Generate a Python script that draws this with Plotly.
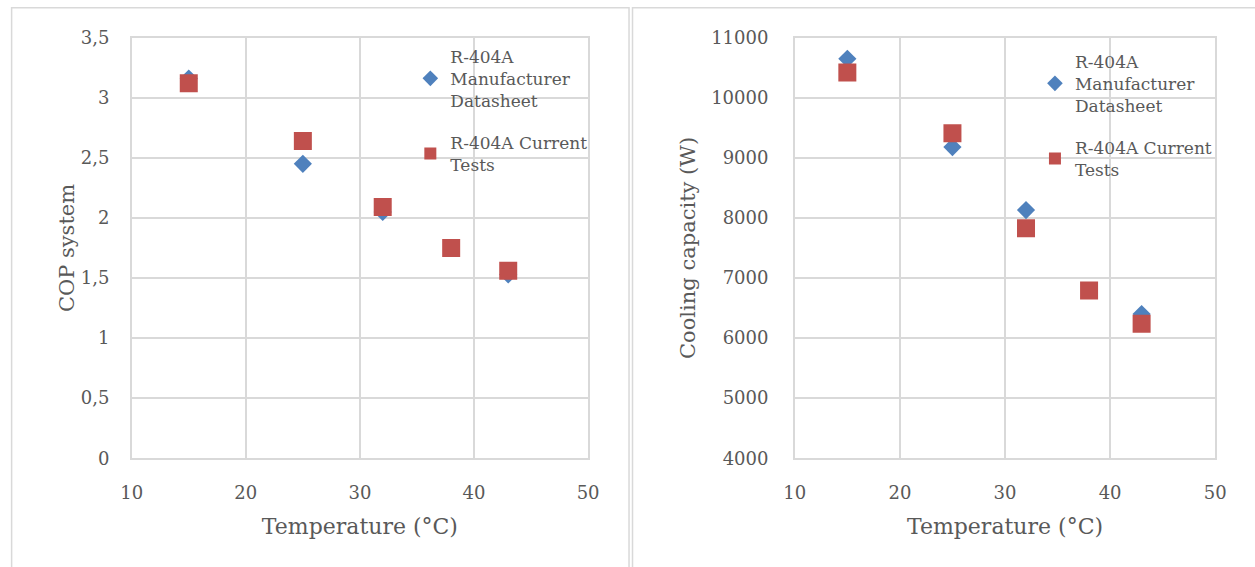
import plotly.graph_objects as go

# ---- data ----
temp_datasheet = [15, 25, 32, 43]
temp_tests = [15, 25, 32, 38, 43]
cop_datasheet = [3.16, 2.45, 2.05, 1.53]
cop_tests = [3.12, 2.64, 2.09, 1.75, 1.56]
cap_datasheet = [10650, 9180, 8130, 6400]
cap_tests = [10420, 9410, 7830, 6790, 6240]
name_datasheet = "R-404A<br>Manufacturer<br>Datasheet"
name_tests = "R-404A Current<br>Tests"
x_title = "Temperature (°C)"
y_title_left = "COP system"
y_title_right = "Cooling capacity (W)"

# measured page -> picture mapping of the capture
AX, BX = 0.984, 10.1
AY, BY = 0.967, 9.2
W, H = 1265, 577
BLUE = "#4f81bd"
RED = "#c0504d"
GRID = "#d9d9d9"
TXT = "#595959"
FONT = "DejaVu Serif"

def px(x):
    return ((x - BX) / AX) / W

def py(y):
    return 1 - ((y - BY) / AY) / H

fig = go.Figure()

fig.add_trace(go.Scatter(x=temp_datasheet, y=cop_datasheet, mode="markers", name=name_datasheet,
                         marker=dict(symbol="diamond", size=14, color=BLUE, line=dict(width=0)),
                         xaxis="x", yaxis="y", legend="legend", legendgroup="a"))
fig.add_trace(go.Scatter(x=temp_tests, y=cop_tests, mode="markers", name=name_tests,
                         marker=dict(symbol="square", size=18, color=RED, line=dict(width=0)),
                         xaxis="x", yaxis="y", legend="legend", legendgroup="b"))
fig.add_trace(go.Scatter(x=temp_datasheet, y=cap_datasheet, mode="markers", name=name_datasheet,
                         marker=dict(symbol="diamond", size=14, color=BLUE, line=dict(width=0)),
                         xaxis="x2", yaxis="y2", legend="legend2", legendgroup="c"))
fig.add_trace(go.Scatter(x=temp_tests, y=cap_tests, mode="markers", name=name_tests,
                         marker=dict(symbol="square", size=18, color=RED, line=dict(width=0)),
                         xaxis="x2", yaxis="y2", legend="legend2", legendgroup="d"))

xax = dict(range=[10, 50], dtick=10, tick0=10, showgrid=True, gridcolor=GRID, gridwidth=1.5,
           showline=True, linecolor=GRID, linewidth=1.5, mirror=True, zeroline=False,
           ticks="", ticklabelstandoff=17, tickfont=dict(family=FONT, size=18, color=TXT),
           title=dict(text=x_title, font=dict(family=FONT, size=22, color=TXT), standoff=17))
yax_common = dict(showgrid=True, gridcolor=GRID, gridwidth=1.5, showline=True, linecolor=GRID,
                  linewidth=1.5, mirror=True, zeroline=False, ticks="",
                  tickfont=dict(family=FONT, size=18, color=TXT))

fig.update_layout(
    width=W, height=H,
    margin=dict(l=0, r=0, t=0, b=0),
    paper_bgcolor="white", plot_bgcolor="white",
    separators=", ",
    font=dict(family=FONT, color=TXT),
    xaxis=dict(domain=[px(131), px(588)], anchor="y", **xax),
    yaxis=dict(domain=[py(458), py(36)], anchor="x", range=[0, 3.5], dtick=0.5,
               ticklabelstandoff=17,
               title=dict(text=y_title_left, font=dict(family=FONT, size=21, color=TXT), standoff=0),
               **yax_common),
    xaxis2=dict(domain=[px(795), px(1216)], anchor="y2", **xax),
    yaxis2=dict(domain=[py(458), py(36)], anchor="x2", range=[4000, 11000], dtick=1000,
                tickformat="d", ticklabelstandoff=21,
                title=dict(text=y_title_right, font=dict(family=FONT, size=21, color=TXT), standoff=10),
                **yax_common),
    legend=dict(x=px(410), y=py(37), xanchor="left", yanchor="top", bgcolor="rgba(0,0,0,0)",
                font=dict(family=FONT, size=17, color=TXT), tracegroupgap=17, itemsizing="constant"),
    legend2=dict(x=px(1035.5), y=py(42), xanchor="left", yanchor="top", bgcolor="rgba(0,0,0,0)",
                 font=dict(family=FONT, size=17, color=TXT), tracegroupgap=17, itemsizing="constant"),
    shapes=[
        dict(type="rect", xref="paper", yref="paper", x0=max(px(5), 0.0005), x1=px(629), y0=-0.01,
             y1=max(1 - 0.0009, py(6)), line=dict(color=GRID, width=1.5), layer="below"),
        dict(type="rect", xref="paper", yref="paper", x0=px(632.5), x1=1.01, y0=-0.01,
             y1=max(1 - 0.0009, py(6)), line=dict(color=GRID, width=1.5), layer="below"),
    ],
)

fig.write_html("out.html", config={"displayModeBar": False},
               post_script="document.body.style.margin='0px';document.body.style.overflow='hidden';")
